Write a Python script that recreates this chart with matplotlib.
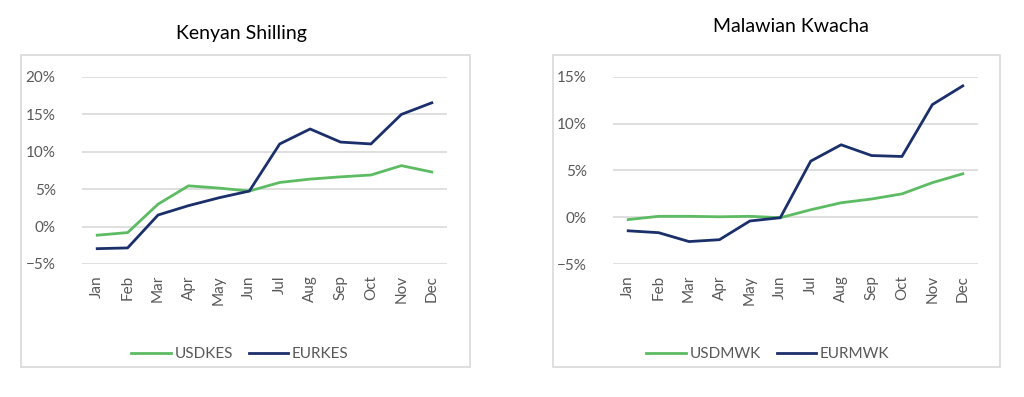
import matplotlib
matplotlib.use("Agg")
import matplotlib.pyplot as plt
from matplotlib.patches import Rectangle
from matplotlib.ticker import PercentFormatter

plt.rcParams['font.family'] = ['Lato', 'DejaVu Sans']

# data (percent change)
months = ['Jan', 'Feb', 'Mar', 'Apr', 'May', 'Jun', 'Jul', 'Aug', 'Sep', 'Oct', 'Nov', 'Dec']

usdkes = [-1.15, -0.8, 3.0, 5.45, 5.15, 4.75, 5.9, 6.35, 6.65, 6.9, 8.15, 7.3]
eurkes = [-2.95, -2.85, 1.55, 2.8, 3.85, 4.75, 11.05, 13.05, 11.3, 11.05, 15.0, 16.55]

usdmwk = [-0.25, 0.1, 0.1, 0.05, 0.1, -0.05, 0.8, 1.55, 1.95, 2.5, 3.7, 4.65]
eurmwk = [-1.45, -1.65, -2.6, -2.4, -0.4, -0.05, 6.0, 7.75, 6.6, 6.5, 12.05, 14.05]

GREEN = '#5dbb63'
NAVY = '#1b2f6b'
GREY = '#595959'
GRID = '#d9d9d9'

W, H = 1024, 397
fig = plt.figure(figsize=(W / 100, H / 100), dpi=100)


def px(x0, y0, x1, y1):
    # pixel box -> figure fraction [left, bottom, width, height]
    return [x0 / W, 1 - y1 / H, (x1 - x0) / W, (y1 - y0) / H]


def panel(box, area, title, title_xy, usd, eur, names, ylim, yticks, leg_x):
    fig.patches.append(Rectangle(box[:2], box[2], box[3], transform=fig.transFigure,
                                 facecolor='none', edgecolor=GRID, lw=1.2, zorder=-1))
    ax = fig.add_axes(area)
    ax.set_facecolor('none')
    x = range(len(months))
    ax.plot(x, usd, color=GREEN, lw=2, label=names[0])
    ax.plot(x, eur, color=NAVY, lw=2, label=names[1])
    ax.set_xlim(-0.5, len(months) - 0.5)
    ax.set_ylim(*ylim)
    ax.set_yticks(yticks)
    ax.yaxis.set_major_formatter(PercentFormatter(decimals=0))
    ax.set_xticks(list(x))
    ax.set_xticklabels(months, rotation=90)
    ax.tick_params(length=0, colors=GREY, labelsize=11)
    ax.tick_params(axis='y', pad=19)
    ax.tick_params(axis='x', pad=8)
    ax.grid(axis='y', color=GRID, lw=1.2)
    ax.set_axisbelow(True)
    for s in ax.spines.values():
        s.set_visible(False)
    fig.text(title_xy[0] / W, 1 - title_xy[1] / H, title, ha='center', va='center',
             fontsize=14, color='black')
    leg = ax.legend(loc='center', bbox_to_anchor=(leg_x / W, 1 - 354 / H),
                    bbox_transform=fig.transFigure, ncol=2, frameon=False,
                    fontsize=11, handlelength=2.6, handletextpad=0.25,
                    columnspacing=1.0)
    for t in leg.get_texts():
        t.set_color(GREY)
    return ax


panel(px(21, 55, 470, 367), px(82, 77, 447, 264), 'Kenyan Shilling', (241, 33),
      usdkes, eurkes, ['USDKES', 'EURKES'], (-5, 20), [-5, 0, 5, 10, 15, 20], 240)
panel(px(553, 55, 1000, 367), px(613, 77, 978, 264), 'Malawian Kwacha', (791, 26),
      usdmwk, eurmwk, ['USDMWK', 'EURMWK'], (-5, 15), [-5, 0, 5, 10, 15], 768)

fig.savefig('out.png', dpi=100, facecolor='white')
